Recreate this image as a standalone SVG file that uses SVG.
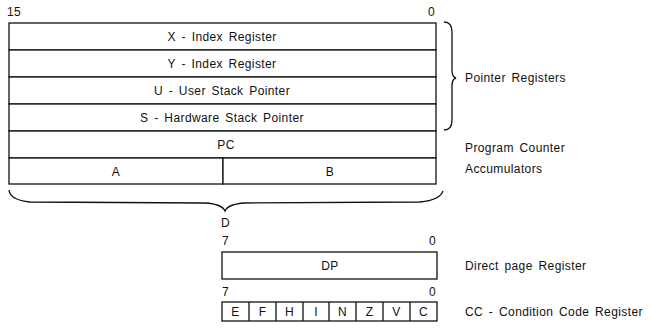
<svg xmlns="http://www.w3.org/2000/svg" width="652" height="330" viewBox="0 0 652 330">
<style>
text{font-family:"Liberation Sans",Arial,sans-serif;font-size:12px;fill:#111;letter-spacing:0.4px;word-spacing:2px}
.c{text-anchor:middle}
.box{fill:#fff;stroke:#111;stroke-width:1.3}
.ln{fill:none;stroke:#111;stroke-width:1.3}
</style>
<rect width="652" height="330" fill="#fff"/>
<text x="7" y="16">15</text>
<text x="428" y="16">0</text>
<g id="X"><rect class="box" x="9" y="23" width="427" height="27"/><text class="c" x="222" y="41">X - Index Register</text></g>
<g id="Y"><rect class="box" x="9" y="50" width="427" height="27"/><text class="c" x="222" y="68">Y - Index Register</text></g>
<g id="U"><rect class="box" x="9" y="77" width="427" height="27"/><text class="c" x="222" y="95">U - User Stack Pointer</text></g>
<g id="S"><rect class="box" x="9" y="104" width="427" height="27"/><text class="c" x="222" y="122">S - Hardware Stack Pointer</text></g>
<g id="PC"><rect class="box" x="9" y="131" width="427" height="27"/><text class="c" x="226" y="149">PC</text></g>
<g id="A"><rect class="box" x="9" y="158" width="214" height="26"/><text class="c" x="116" y="176">A</text></g>
<g id="B"><rect class="box" x="223" y="158" width="213" height="26"/><text class="c" x="330" y="176">B</text></g>
<g id="braces">
<path class="ln" d="M444 22 Q452 22 452 32 L452 70 Q452 77 456 78 Q452 79 452 86 L452 120 Q452 130 444 130"/>
<path class="ln" d="M9 190 Q10 200 30 202 L205 203 Q222 204 225 211 Q228 204 245 203 L420 202 Q440 200 443 191"/>
</g>
<text x="465" y="82">Pointer Registers</text>
<text x="465" y="152">Program Counter</text>
<text x="465" y="173">Accumulators</text>
<text x="221" y="227">D</text>
<text x="222" y="245">7</text>
<text x="429" y="245">0</text>
<g id="DP"><rect class="box" x="222" y="252" width="215" height="27"/><text class="c" x="330" y="270">DP</text></g>
<text x="465" y="270">Direct page Register</text>
<text x="222" y="296">7</text>
<text x="429" y="296">0</text>
<g id="CC">
<rect class="box" x="222" y="302" width="215" height="19"/>
<path class="ln" d="M249 302V321M276 302V321M303 302V321M329 302V321M356 302V321M383 302V321M410 302V321"/>
<text class="c" x="235.5" y="316">E</text>
<text class="c" x="262.5" y="316">F</text>
<text class="c" x="289.5" y="316">H</text>
<text class="c" x="316" y="316">I</text>
<text class="c" x="342.5" y="316">N</text>
<text class="c" x="369.5" y="316">Z</text>
<text class="c" x="396.5" y="316">V</text>
<text class="c" x="423.5" y="316">C</text>
</g>
<text x="465" y="316">CC - Condition Code Register</text>
</svg>
